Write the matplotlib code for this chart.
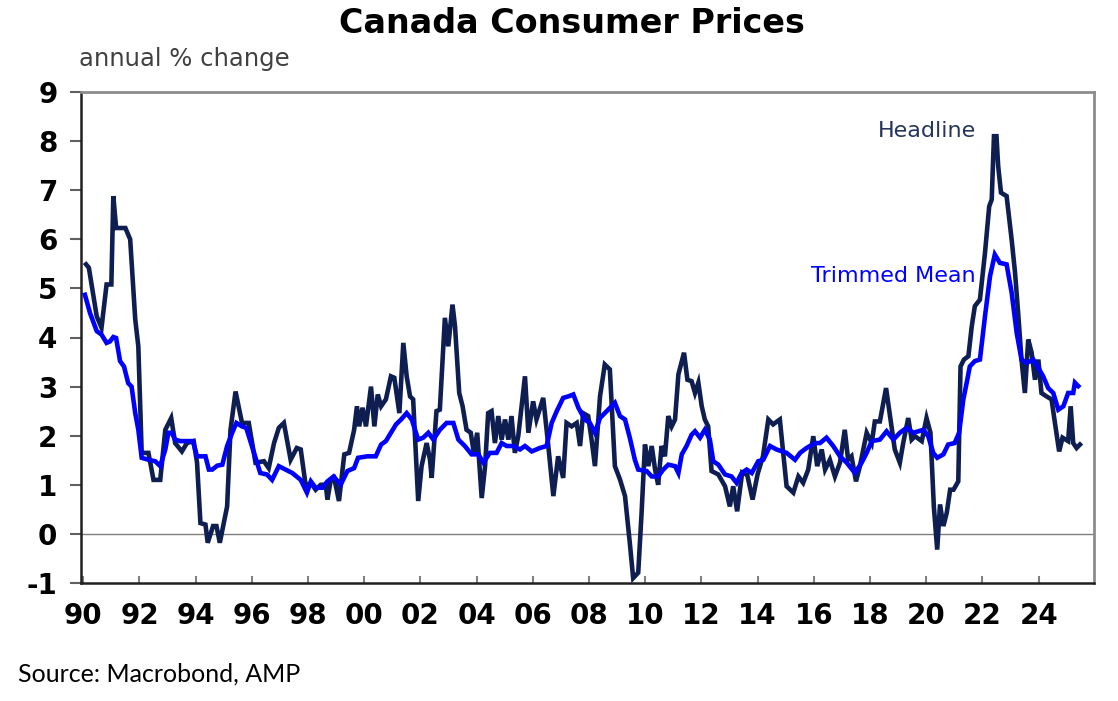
import matplotlib.pyplot as plt

plt.rcParams['axes.unicode_minus'] = False

# ── Data ──────────────────────────────────────────
headline_t = [
    1990.10, 1990.20, 1990.48, 1990.65, 1990.83, 1991.00, 1991.07, 1991.17,
    1991.50, 1991.67, 1991.85, 1991.96, 1992.08, 1992.32, 1992.50, 1992.74,
    1992.92, 1993.13, 1993.27, 1993.51, 1993.69, 1993.93, 1994.05, 1994.17,
    1994.35, 1994.43, 1994.62, 1994.74, 1994.86, 1995.00, 1995.12, 1995.24,
    1995.42, 1995.65, 1995.89, 1996.13, 1996.43, 1996.60, 1996.79, 1996.96,
    1997.14, 1997.38, 1997.60, 1997.74, 1997.92, 1998.10, 1998.27, 1998.45,
    1998.63, 1998.69, 1998.81, 1998.93, 1999.10, 1999.29, 1999.46, 1999.64,
    1999.74, 1999.82, 1999.94, 2000.06, 2000.24, 2000.36, 2000.48, 2000.60,
    2000.77, 2000.95, 2001.07, 2001.25, 2001.39, 2001.51, 2001.63, 2001.74,
    2001.92, 2002.04, 2002.22, 2002.34, 2002.40, 2002.57, 2002.69, 2002.87,
    2002.99, 2003.14, 2003.23, 2003.38, 2003.50, 2003.64, 2003.79, 2003.90,
    2004.02, 2004.18, 2004.30, 2004.41, 2004.53, 2004.65, 2004.77, 2004.89,
    2005.01, 2005.13, 2005.24, 2005.36, 2005.48, 2005.60, 2005.72, 2005.84,
    2006.01, 2006.13, 2006.37, 2006.55, 2006.73, 2006.90, 2007.08, 2007.20,
    2007.38, 2007.56, 2007.68, 2007.79, 2007.97, 2008.09, 2008.21, 2008.39,
    2008.56, 2008.74, 2008.92, 2009.10, 2009.28, 2009.45, 2009.57, 2009.75,
    2009.87, 2009.99, 2010.11, 2010.23, 2010.35, 2010.46, 2010.58, 2010.70,
    2010.82, 2010.94, 2011.06, 2011.18, 2011.38, 2011.50, 2011.65, 2011.77,
    2011.89, 2012.01, 2012.12, 2012.24, 2012.36, 2012.60, 2012.84, 2013.01,
    2013.13, 2013.27, 2013.45, 2013.63, 2013.82, 2014.00, 2014.19, 2014.38,
    2014.55, 2014.79, 2015.03, 2015.27, 2015.45, 2015.62, 2015.80, 2015.98,
    2016.12, 2016.28, 2016.40, 2016.57, 2016.75, 2016.93, 2017.10, 2017.22,
    2017.34, 2017.50, 2017.64, 2017.88, 2018.06, 2018.17, 2018.35, 2018.57,
    2018.71, 2018.88, 2019.06, 2019.18, 2019.36, 2019.48, 2019.60, 2019.84,
    2020.01, 2020.15, 2020.27, 2020.39, 2020.49, 2020.61, 2020.73, 2020.85,
    2020.97, 2021.14, 2021.22, 2021.34, 2021.50, 2021.62, 2021.73, 2021.91,
    2022.09, 2022.24, 2022.33, 2022.41, 2022.50, 2022.56, 2022.66, 2022.86,
    2023.04, 2023.16, 2023.28, 2023.39, 2023.51, 2023.63, 2023.75, 2023.87,
    2023.99, 2024.10, 2024.28, 2024.46, 2024.58, 2024.73, 2024.85, 2025.05,
    2025.14, 2025.23, 2025.35, 2025.47,
]
headline = [
    5.49, 5.42, 4.43, 4.20, 5.08, 5.08, 6.88, 6.23,
    6.23, 6.00, 4.37, 3.82, 1.65, 1.65, 1.10, 1.10,
    2.12, 2.36, 1.85, 1.68, 1.85, 1.89, 1.45, 0.22,
    0.19, -0.18, 0.16, 0.16, -0.18, 0.22, 0.56, 2.12,
    2.90, 2.26, 2.26, 1.45, 1.48, 1.34, 1.85, 2.16,
    2.26, 1.51, 1.75, 1.72, 0.97, 1.04, 0.90, 1.00,
    1.00, 0.70, 1.10, 1.14, 0.67, 1.62, 1.65, 2.12,
    2.60, 2.19, 2.57, 2.19, 3.00, 2.19, 2.84, 2.60,
    2.74, 3.21, 3.18, 2.46, 3.89, 3.21, 2.80, 2.74,
    0.67, 1.38, 1.85, 1.51, 1.14, 2.50, 2.53, 4.40,
    3.82, 4.67, 4.23, 2.87, 2.60, 2.12, 2.06, 1.65,
    2.06, 0.73, 1.38, 2.46, 2.50, 1.85, 2.40, 1.92,
    2.33, 1.92, 2.40, 1.65, 1.99, 2.60, 3.21, 2.06,
    2.70, 2.33, 2.77, 1.79, 0.77, 1.58, 1.14, 2.26,
    2.19, 2.26, 1.79, 2.46, 2.40, 1.92, 1.38, 2.80,
    3.45, 3.35, 1.38, 1.11, 0.77, -0.18, -0.90, -0.79,
    0.43, 1.82, 1.38, 1.79, 1.31, 1.00, 1.79, 1.58,
    2.40, 2.19, 2.33, 3.25, 3.69, 3.14, 3.11, 2.87,
    3.08, 2.60, 2.33, 2.19, 1.28, 1.21, 0.97, 0.56,
    0.97, 0.46, 1.25, 1.20, 0.70, 1.22, 1.58, 2.33,
    2.23, 2.33, 0.97, 0.84, 1.17, 1.04, 1.31, 1.99,
    1.38, 1.72, 1.31, 1.51, 1.17, 1.45, 2.12, 1.51,
    1.58, 1.07, 1.38, 2.06, 1.85, 2.29, 2.29, 2.97,
    2.40, 1.72, 1.45, 1.85, 2.36, 1.92, 1.99, 1.89,
    2.36, 2.06, 0.56, -0.32, 0.60, 0.16, 0.43, 0.90,
    0.90, 1.07, 3.41, 3.55, 3.62, 4.23, 4.64, 4.77,
    5.72, 6.67, 6.81, 8.10, 8.10, 7.49, 6.95, 6.88,
    5.99, 5.32, 4.43, 3.55, 2.87, 3.96, 3.69, 3.14,
    3.55, 2.87, 2.80, 2.74, 2.26, 1.68, 1.96, 1.89,
    2.60, 1.85, 1.75, 1.82,
]

trimmed_t = [
    1990.06, 1990.24, 1990.48, 1990.65, 1990.83, 1990.95, 1991.07, 1991.17,
    1991.31, 1991.45, 1991.60, 1991.72, 1991.85, 1991.96, 1992.08, 1992.32,
    1992.56, 1992.74, 1992.92, 1993.03, 1993.15, 1993.27, 1993.45, 1993.69,
    1993.90, 1994.05, 1994.17, 1994.35, 1994.47, 1994.59, 1994.77, 1994.95,
    1995.12, 1995.30, 1995.45, 1995.65, 1995.80, 1996.00, 1996.30, 1996.54,
    1996.72, 1996.96, 1997.20, 1997.44, 1997.74, 1997.96, 1998.10, 1998.27,
    1998.51, 1998.69, 1998.91, 1999.16, 1999.40, 1999.64, 1999.78, 2000.11,
    2000.41, 2000.60, 2000.77, 2000.95, 2001.13, 2001.31, 2001.51, 2001.69,
    2001.92, 2002.10, 2002.28, 2002.46, 2002.69, 2002.93, 2003.17, 2003.35,
    2003.58, 2003.82, 2004.06, 2004.24, 2004.47, 2004.71, 2004.89, 2005.07,
    2005.30, 2005.54, 2005.72, 2005.96, 2006.25, 2006.49, 2006.67, 2006.85,
    2007.08, 2007.26, 2007.44, 2007.62, 2007.85, 2008.03, 2008.21, 2008.39,
    2008.63, 2008.92, 2009.10, 2009.28, 2009.45, 2009.63, 2009.75, 2010.05,
    2010.23, 2010.46, 2010.64, 2010.82, 2011.06, 2011.18, 2011.30, 2011.47,
    2011.65, 2011.77, 2011.95, 2012.12, 2012.30, 2012.42, 2012.60, 2012.84,
    2013.07, 2013.25, 2013.43, 2013.61, 2013.79, 2014.02, 2014.20, 2014.44,
    2014.67, 2015.03, 2015.33, 2015.51, 2015.74, 2016.04, 2016.22, 2016.45,
    2016.69, 2016.93, 2017.17, 2017.46, 2017.70, 2017.88, 2018.06, 2018.35,
    2018.59, 2018.83, 2019.06, 2019.30, 2019.54, 2019.90, 2020.07, 2020.25,
    2020.39, 2020.61, 2020.78, 2021.01, 2021.17, 2021.32, 2021.44, 2021.55,
    2021.73, 2021.91, 2022.09, 2022.27, 2022.44, 2022.62, 2022.86, 2023.04,
    2023.22, 2023.39, 2023.57, 2023.81, 2023.99, 2024.16, 2024.34, 2024.52,
    2024.70, 2024.88, 2025.05, 2025.23, 2025.29, 2025.41,
]
trimmed = [
    4.87, 4.50, 4.13, 4.06, 3.89, 3.92, 4.01, 3.99,
    3.52, 3.41, 3.07, 3.00, 2.46, 2.12, 1.55, 1.51,
    1.48, 1.38, 1.72, 2.06, 2.06, 1.92, 1.89, 1.89,
    1.89, 1.58, 1.58, 1.58, 1.31, 1.31, 1.39, 1.41,
    1.79, 2.06, 2.26, 2.19, 2.16, 1.79, 1.24, 1.21,
    1.10, 1.38, 1.31, 1.24, 1.10, 0.84, 1.07, 0.94,
    0.94, 1.07, 1.17, 1.00, 1.28, 1.34, 1.55, 1.58,
    1.58, 1.82, 1.89, 2.06, 2.23, 2.33, 2.46, 2.33,
    1.92, 1.96, 2.06, 1.92, 2.12, 2.26, 2.26, 1.92,
    1.79, 1.62, 1.62, 1.45, 1.65, 1.65, 1.85, 1.79,
    1.79, 1.72, 1.79, 1.68, 1.75, 1.79, 2.26, 2.50,
    2.77, 2.80, 2.84, 2.57, 2.33, 2.26, 2.06, 2.36,
    2.50, 2.67, 2.40, 2.33, 1.96, 1.51, 1.31, 1.28,
    1.17, 1.17, 1.31, 1.41, 1.38, 1.24, 1.62, 1.79,
    2.02, 2.09, 1.96, 2.12, 1.92, 1.48, 1.41, 1.21,
    1.17, 1.04, 1.24, 1.31, 1.24, 1.48, 1.51, 1.79,
    1.72, 1.65, 1.51, 1.65, 1.75, 1.85, 1.85, 1.96,
    1.79, 1.58, 1.45, 1.24, 1.45, 1.65, 1.89, 1.92,
    2.09, 1.92, 2.06, 2.16, 2.06, 2.12, 1.99, 1.65,
    1.55, 1.62, 1.82, 1.85, 2.06, 2.74, 3.08, 3.41,
    3.52, 3.55, 4.43, 5.25, 5.69, 5.52, 5.49, 4.91,
    4.09, 3.55, 3.48, 3.55, 3.38, 3.21, 2.97, 2.87,
    2.53, 2.60, 2.87, 2.87, 3.08, 3.01,
]

year_ticks = list(range(1990, 2025, 2))
year_labels = [f'{y % 100:02d}' for y in year_ticks]
y_ticks = list(range(-1, 10))

# ── Figure ────────────────────────────
W, H = 1118, 701
fig = plt.figure(figsize=(W / 100, H / 100), dpi=100)
fig.patch.set_facecolor('white')
ax = fig.add_axes([81 / W, (H - 583) / H, (1094 - 81) / W, (583 - 92) / H])

NAVY = '#0E1E50'
BLUE = '#0000FF'

ax.axhline(0, color='#7f7f7f', lw=1, zorder=1)
ax.plot(headline_t, headline, color=NAVY, lw=3.3,
        solid_joinstyle='miter', zorder=3)
ax.plot(trimmed_t, trimmed, color=BLUE, lw=3.3,
        solid_joinstyle='miter', zorder=4)

ax.text(2021.77, 8.09, 'Headline', color='#26355C',
        fontsize=16, ha='right', va='baseline')
ax.text(2021.77, 5.14, 'Trimmed Mean', color=BLUE,
        fontsize=16, ha='right', va='baseline')

ax.set_xlim(1989.92, 2025.97)
ax.set_ylim(-1, 9)
ax.set_xticks(year_ticks)
ax.set_xticklabels(year_labels)
ax.set_yticks(y_ticks)

for lab in ax.get_xticklabels() + ax.get_yticklabels():
    lab.set_fontweight('bold')
    lab.set_fontsize(20)
    lab.set_color('black')

ax.tick_params(axis='x', direction='in', length=5, width=1.5,
               color='#808080', pad=14)
ax.tick_params(axis='y', direction='out', length=8, width=1.5,
               color='#606060', pad=9)

for side in ['left', 'bottom']:
    ax.spines[side].set_color('#202020')
    ax.spines[side].set_linewidth(1.8)
for side in ['top', 'right']:
    ax.spines[side].set_color('#8c8c8c')
    ax.spines[side].set_linewidth(2)

fig.text(572 / W, 1 - 33 / H, 'Canada Consumer Prices',
         fontsize=24, fontweight='bold', color='black',
         ha='center', va='baseline')
fig.text(79 / W, 1 - 66 / H, 'annual % change',
         fontsize=17.5, color='#404040', ha='left', va='baseline')
fig.text(18 / W, 1 - 682 / H, 'Source: Macrobond, AMP',
         fontsize=18, color='black', ha='left', va='baseline',
         family=['Lato', 'DejaVu Sans'])

plt.savefig('out.png', dpi=100, facecolor='white')
plt.close()
